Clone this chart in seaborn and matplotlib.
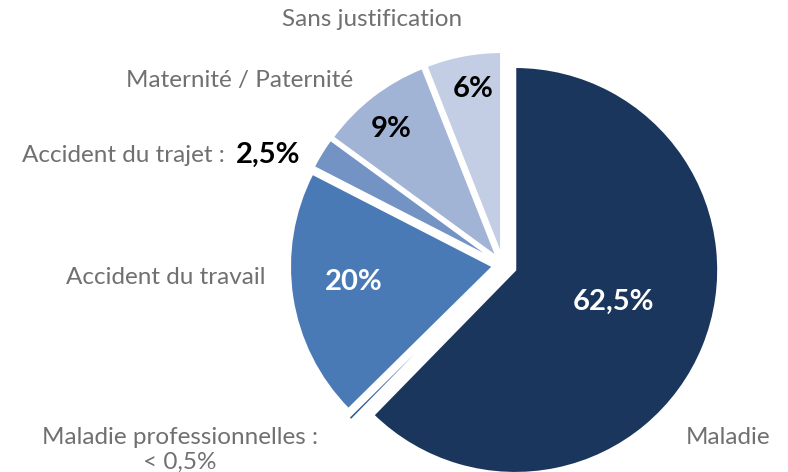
import matplotlib
matplotlib.use("Agg")
import matplotlib.pyplot as plt
import seaborn as sns

sns.set_theme(style="white")
plt.rcParams["font.family"] = ["Lato", "DejaVu Sans"]

# Répartition des absences par motif
categories = ["Maladie", "Maladie professionnelles", "Accident du travail",
              "Accident du trajet", "Maternité / Paternité", "Sans justification"]
values = [62.5, 0.3, 20, 2.5, 9, 6]
pct_labels = ["62,5%", "< 0,5%", "20%", "2,5%", "9%", "6%"]

colors = ["#1B365D", "#2F5C9A", "#4A7AB5", "#7393C5", "#A1B4D6", "#C3CEE4"]
explode = [0.065, 0.07, 0.05, 0.05, 0.05, 0.05]

W, H = 788, 472
R = 203.0           # pie radius in pixels
CX, CY = 503, 265   # pie centre in pixels

fig = plt.figure(figsize=(W / 100, H / 100), dpi=100)
ax = fig.add_axes([0, 0, 1, 1])
ax.pie(values, colors=colors, explode=explode, startangle=90, counterclock=False,
       radius=1.0, wedgeprops=dict(edgecolor="white", linewidth=1.5))
ax.set_xlim(-CX / R, (W - CX) / R)
ax.set_ylim(-(H - CY) / R, CY / R)
ax.set_aspect("equal")
ax.axis("off")


def px(x, y):
    return (x - CX) / R, (CY - y) / R


grey = "#707070"
fs_cat = 17.5
fs_pct = 21

# category names
for name, (x, y), ha in [
    ("Sans justification", (372, 20), "center"),
    ("Maternité / Paternité", (240, 81), "center"),
    ("Accident du travail", (166, 277), "center"),
    ("Maladie", (728, 437), "center"),
]:
    ax.text(*px(x, y), name, ha=ha, va="center", color=grey, fontsize=fs_cat)

ax.text(*px(231, 155), categories[3] + " : ", ha="right", va="center",
        color=grey, fontsize=fs_cat)
ax.text(*px(236, 155), pct_labels[3], ha="left", va="center",
        color="black", fontsize=fs_pct, fontweight="bold")

ax.text(*px(180, 437), categories[1] + " :", ha="center", va="center",
        color=grey, fontsize=fs_cat)
ax.text(*px(180, 462), pct_labels[1], ha="center", va="center",
        color=grey, fontsize=fs_cat)

# percentages inside the slices
for idx, (x, y), c in [
    (0, (614, 302), "white"),
    (2, (354, 282), "white"),
    (4, (391, 129), "black"),
    (5, (473, 89), "black"),
]:
    ax.text(*px(x, y), pct_labels[idx], ha="center", va="center",
            color=c, fontsize=fs_pct, fontweight="bold")

fig.savefig("out.png", dpi=100)
